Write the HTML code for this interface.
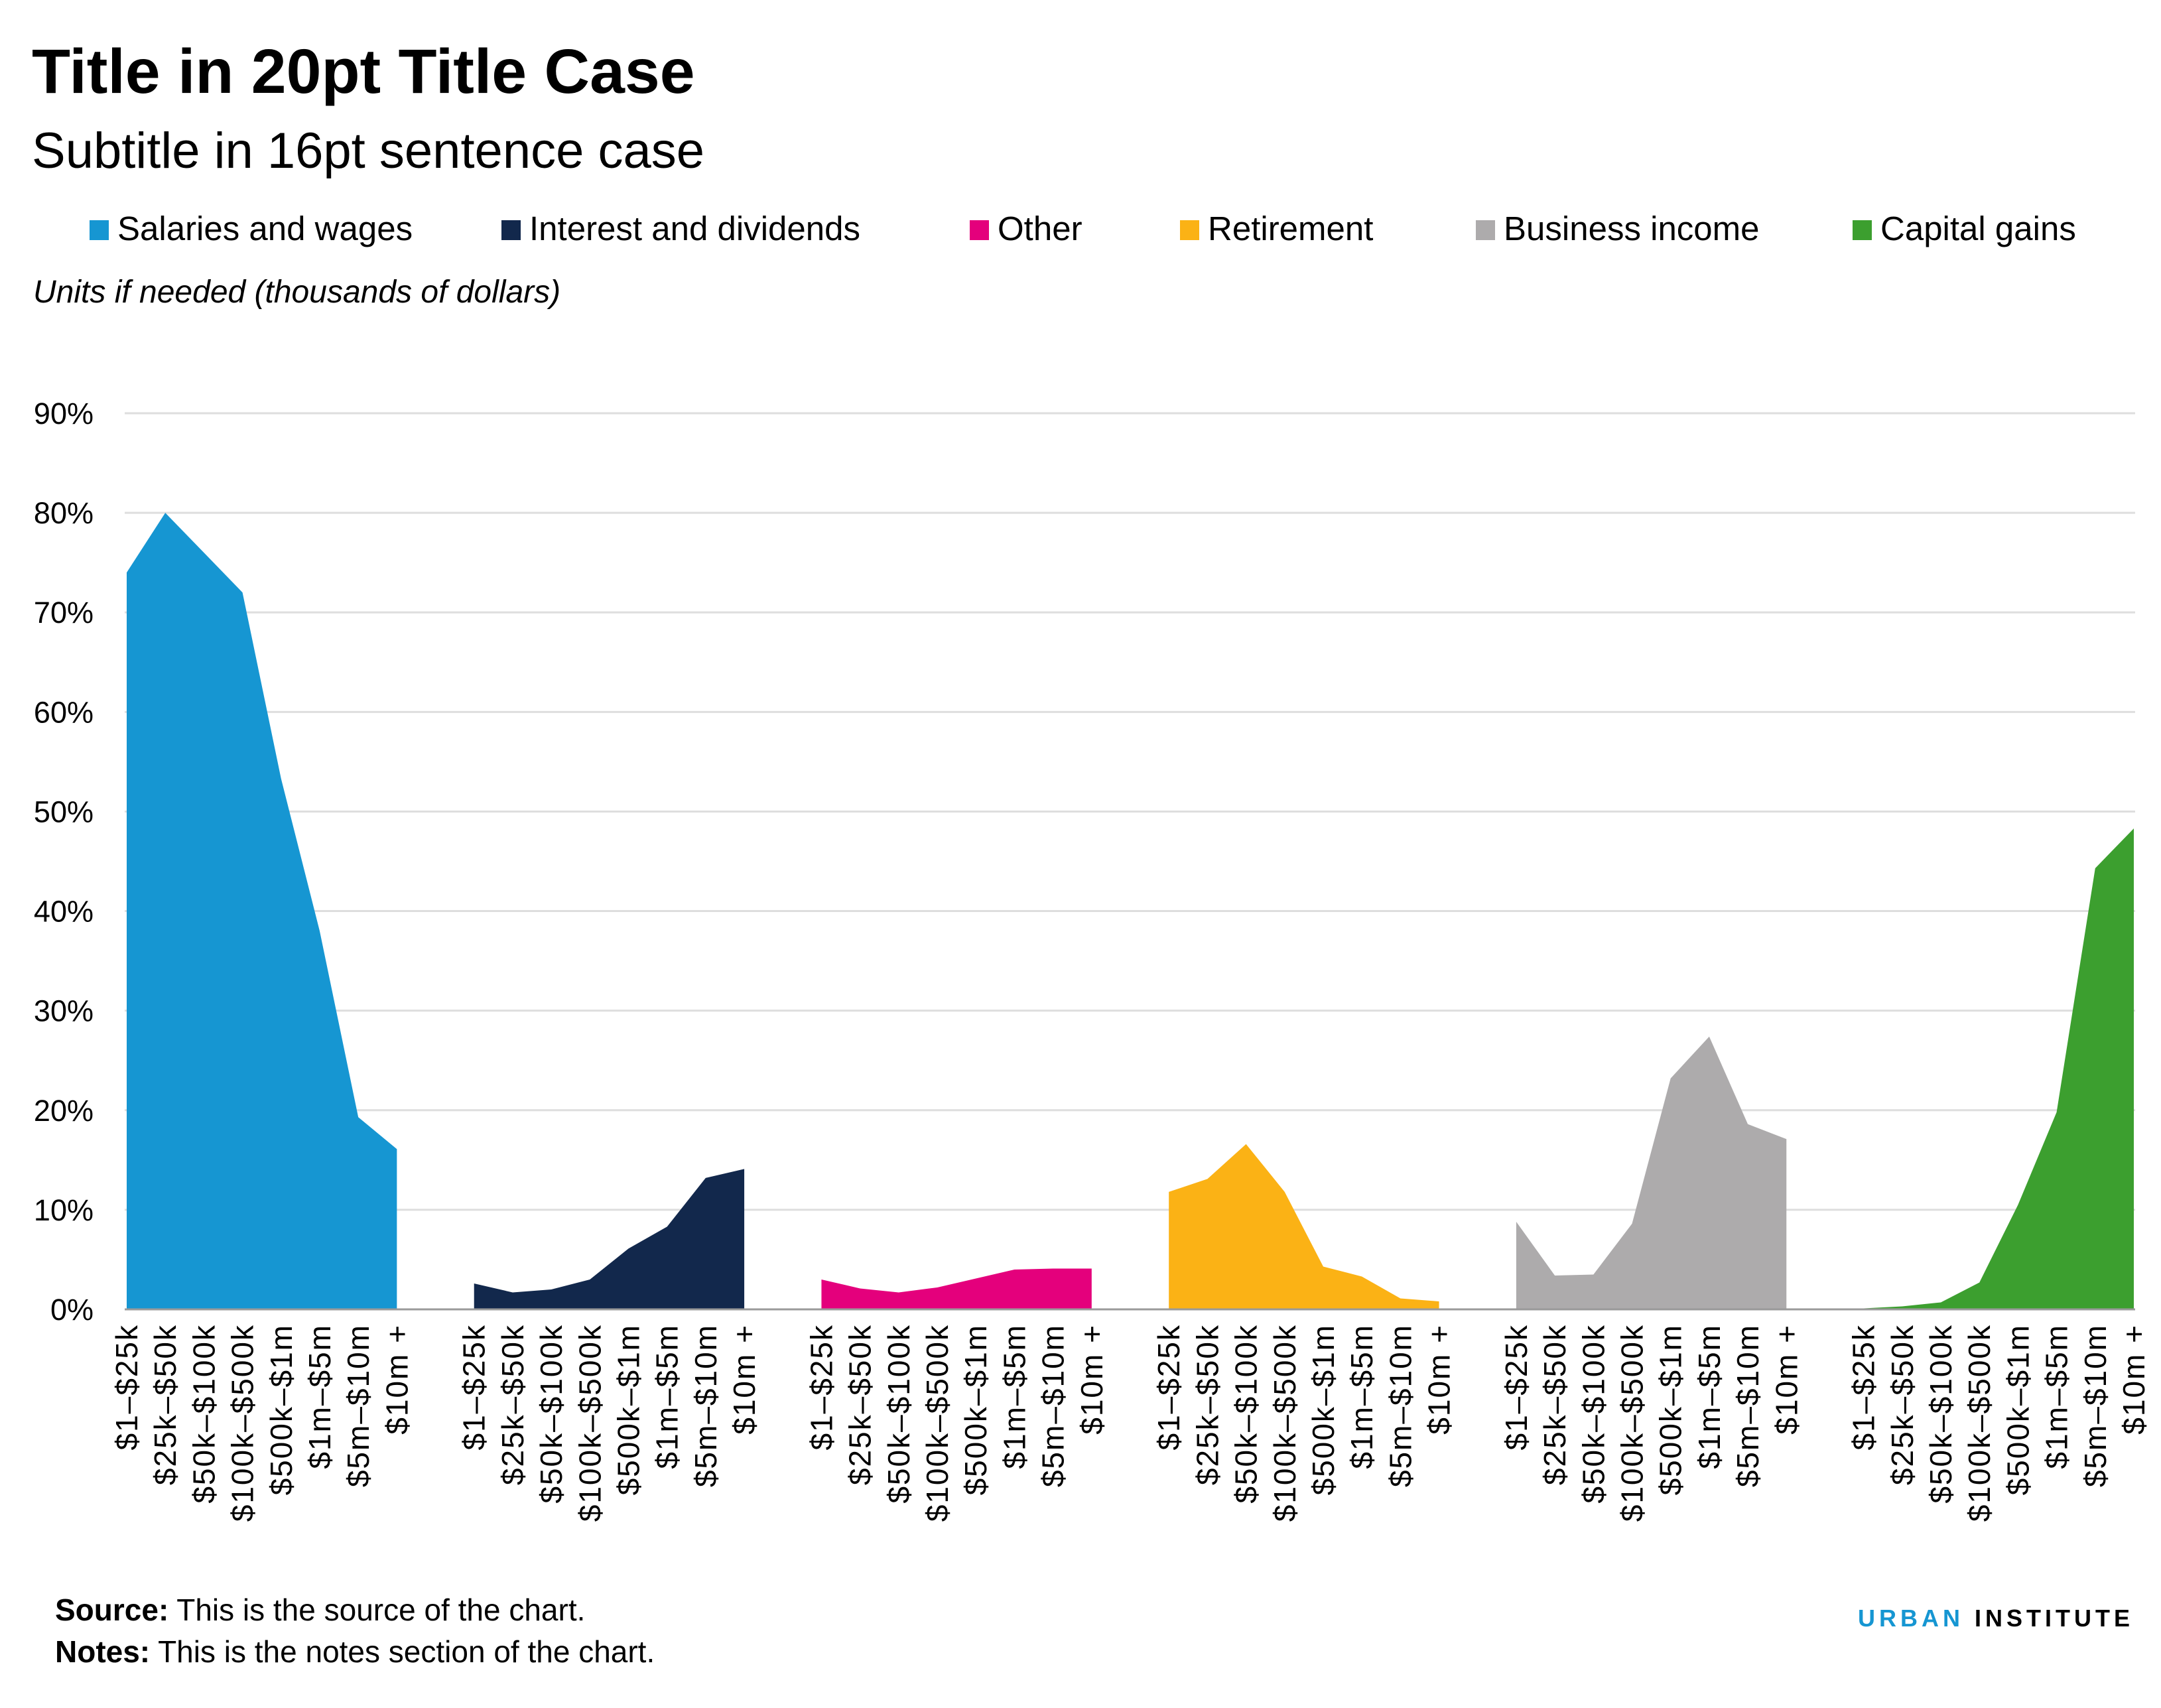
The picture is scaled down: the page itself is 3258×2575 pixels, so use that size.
<!DOCTYPE html>
<html><head><meta charset="utf-8"><style>
html,body{margin:0;padding:0;background:#fff;}
svg{display:block;font-family:"Liberation Sans",sans-serif;}
</style></head><body>
<svg id="chart" width="3258" height="2575" viewBox="0 0 3258 2575" xmlns="http://www.w3.org/2000/svg">
<text x="48" y="140" font-size="95" font-weight="bold" fill="#000">Title in 20pt Title Case</text>
<text x="48" y="253" font-size="76" fill="#000">Subtitle in 16pt sentence case</text>
<g id="legend"></g>
<text x="50" y="456" font-size="48" font-style="italic" fill="#000">Units if needed (thousands of dollars)</text>
<g id="grid"></g>
<g id="areas"></g>
<g id="yticks"></g>
<g id="xticks"></g>
<text x="83" y="2443" font-size="46" fill="#000"><tspan font-weight="bold">Source:</tspan> This is the source of the chart.</text>
<text x="83" y="2506" font-size="46" fill="#000"><tspan font-weight="bold">Notes:</tspan> This is the notes section of the chart.</text>
<text x="3217" y="2452" font-size="36" font-weight="bold" text-anchor="end" letter-spacing="6"><tspan fill="#1696d2">URBAN</tspan><tspan fill="#000"> INSTITUTE</tspan></text>
</svg>
<script>
const categories = ["$1\u2013$25k","$25k\u2013$50k","$50k\u2013$100k","$100k\u2013$500k","$500k\u2013$1m","$1m\u2013$5m","$5m\u2013$10m","$10m +"];
const seriesNames = ["Salaries and wages","Interest and dividends","Other","Retirement","Business income","Capital gains"];
const salaries = [74, 80, 76, 72, 53.3, 38, 19.3, 16.1];
const interest = [2.6, 1.7, 2.0, 3.0, 6.1, 8.3, 13.2, 14.1];
const other = [3.0, 2.1, 1.7, 2.2, 3.1, 4.0, 4.1, 4.1];
const retirement = [11.8, 13.1, 16.6, 11.8, 4.3, 3.3, 1.1, 0.8];
const business = [8.8, 3.4, 3.5, 8.6, 23.2, 27.4, 18.6, 17.1];
const capitalGains = [0.1, 0.3, 0.7, 2.7, 10.5, 19.8, 44.3, 48.3];
const yTicks = [0,10,20,30,40,50,60,70,80,90];
const colors = ["#1696d2","#12284c","#e4007c","#fbb215","#adabac","#3c9f2f"];
const allSeries = [salaries, interest, other, retirement, business, capitalGains];

const NS = "http://www.w3.org/2000/svg";
const X0 = 191, X1 = 3217, Y0 = 1974, Y90 = 623;
const nSlots = allSeries.length * categories.length + allSeries.length - 1;
const step = (X1 - X0) / (nSlots - 1);
function xPos(g, i){ return X0 + (g * (categories.length + 1) + i) * step; }
function yPos(v){ return Y0 - (v / 90) * (Y0 - Y90); }
function mk(tag, attrs, parent){ const e = document.createElementNS(NS, tag); for (const k in attrs) e.setAttribute(k, attrs[k]); parent.appendChild(e); return e; }

const grid = document.getElementById('grid');
const yt = document.getElementById('yticks');
yTicks.forEach(t => {
  if (t > 0) {
    const l = mk('line', {x1: 188, x2: 3219, y1: yPos(t), y2: yPos(t), stroke: '#dedede', 'stroke-width': 3}, grid);
    
    
  }
  const tx = mk('text', {x: 141, y: yPos(t) + 16, 'font-size': 45, 'text-anchor': 'end', fill: '#000'}, yt);
  tx.textContent = t + '%';
  
  
});

const areas = document.getElementById('areas');
const xt = document.getElementById('xticks');
allSeries.forEach((s, g) => {
  let d = 'M' + xPos(g, 0) + ',' + Y0;
  s.forEach((v, i) => { d += ' L' + xPos(g, i) + ',' + yPos(v); });
  d += ' L' + xPos(g, s.length - 1) + ',' + Y0 + ' Z';
  const p = mk('path', {d: d, fill: colors[g]}, areas);
  
  
  categories.forEach((c, i) => {
    const x = xPos(g, i) + 16, y = 1996;
    const t = mk('text', {x: x, y: y, 'font-size': 46, 'letter-spacing': 2, 'text-anchor': 'end', fill: '#000', transform: 'rotate(-90 ' + x + ' ' + y + ')'}, xt);
    t.textContent = c;
    
    
  });
});
const axis = mk('line', {x1: 188, x2: 3219, y1: Y0, y2: Y0, stroke: '#9a9a9a', 'stroke-width': 3}, areas);



const legend = document.getElementById('legend');
const legX = [135, 756, 1462, 1779, 2225, 2793];
seriesNames.forEach((n, i) => {
  const r = mk('rect', {x: legX[i], y: 332, width: 29, height: 30, fill: colors[i]}, legend);
  
  
  const t = mk('text', {x: legX[i] + 42, y: 362, 'font-size': 51, fill: '#000'}, legend);
  t.textContent = n;
  
  
});
</script>
</body></html>
